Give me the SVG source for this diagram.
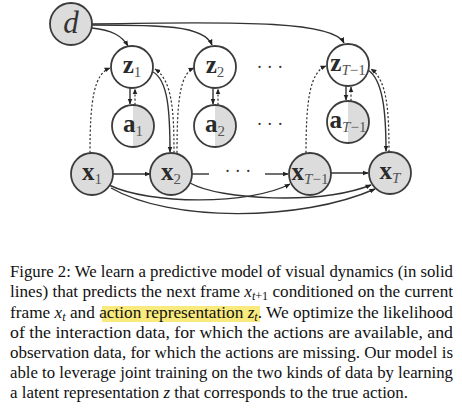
<svg xmlns="http://www.w3.org/2000/svg" width="462" height="410" viewBox="0 0 462 410">
<style>
.n{stroke:#3c3c3c;stroke-width:1.8;}
.g{fill:#dcdcdc;}
.w{fill:#ffffff;}
.lbl{font-family:"Liberation Serif",serif;font-weight:bold;font-size:25px;fill:#2a2a2a;text-anchor:middle;}
.sub{font-weight:normal;font-size:15px;fill:#555;}
.it{font-style:italic;}
.e{fill:none;stroke:#333;stroke-width:1.4;}
.d{fill:none;stroke:#333;stroke-width:1.2;stroke-dasharray:2.2 2;}
.dots{font-family:"Liberation Serif",serif;font-size:18px;fill:#333;letter-spacing:4.4px;text-anchor:middle;}
.cap{font-family:"Liberation Serif",serif;font-size:17px;fill:#111;}
</style>
<defs>
<marker id="ah" viewBox="0 0 10 10" refX="9" refY="5" markerWidth="6" markerHeight="6" orient="auto" markerUnits="userSpaceOnUse">
<path d="M0,1 L10,5 L0,9 Z" fill="#222"/>
</marker>
</defs>
<rect width="462" height="410" fill="#fff"/>

<g id="connectors">
<path class="e" d="M92,28 C112,30 122,36 128,46" marker-end="url(#ah)"/>
<path class="e" d="M92,25 C160,25 204,25 212,45" marker-end="url(#ah)"/>
<path class="e" d="M92,24 C250,21 334,22 344,43" marker-end="url(#ah)"/>
<path class="e" d="M130,88 L130,104" marker-end="url(#ah)"/>
<path class="d" d="M135,105 L135,89" marker-end="url(#ah)"/>
<path class="e" d="M213,88 L213,104" marker-end="url(#ah)"/>
<path class="d" d="M218,105 L218,89" marker-end="url(#ah)"/>
<path class="e" d="M346,86 L346,100" marker-end="url(#ah)"/>
<path class="d" d="M351,101 L351,87" marker-end="url(#ah)"/>
<path class="d" d="M90,153 C90,100 94,74 110,68" marker-end="url(#ah)"/>
<path class="e" d="M153,72 C168,80 170,112 170,152" marker-end="url(#ah)"/>
<path class="d" d="M174,153 C174,110 172,80 155,69" marker-end="url(#ah)"/>
<path class="d" d="M177,153 C177,100 180,74 194,68" marker-end="url(#ah)"/>
<path class="d" d="M306,153 C306,100 310,72 326,66" marker-end="url(#ah)"/>
<path class="e" d="M368,70 C383,80 386,112 386,151" marker-end="url(#ah)"/>
<path class="d" d="M389,152 C389,110 387,80 371,69" marker-end="url(#ah)"/>
<path class="e" d="M113,174 L150,174" marker-end="url(#ah)"/>
<path class="e" d="M192,174 L209,174"/>
<path class="e" d="M265,174 L288,174" marker-end="url(#ah)"/>
<path class="e" d="M331,173 L368,173" marker-end="url(#ah)"/>
<path class="e" d="M109,185 C150,205 250,205 290,184" marker-end="url(#ah)"/>
<path class="e" d="M111,188 C170,222 300,222 375,189" marker-end="url(#ah)"/>
<path class="e" d="M190,183 C220,200 320,205 371,185" marker-end="url(#ah)"/>
</g>

<g id="d">
<circle class="n g" cx="71" cy="24" r="21"/>
<text x="71" y="33" font-family="Liberation Serif,serif" font-style="italic" font-size="31" fill="#333" text-anchor="middle">d</text>
</g>
<g id="z1"><circle class="n w" cx="132" cy="67" r="21"/><text class="lbl" x="132" y="73">z<tspan class="sub" dy="4">1</tspan></text></g>
<g id="z2"><circle class="n w" cx="215" cy="67" r="21"/><text class="lbl" x="215" y="73">z<tspan class="sub" dy="4">2</tspan></text></g>
<g id="zT-1"><circle class="n w" cx="348" cy="65" r="21"/><text class="lbl" x="348" y="71">z<tspan class="sub" dy="4"><tspan class="it">T</tspan>−1</tspan></text></g>

<g id="a1"><circle class="w" cx="133" cy="126" r="21"/><path class="g" d="M133,105 A21,21 0 0 1 133,147 Z"/><circle class="n" fill="none" cx="133" cy="126" r="21"/><text class="lbl" x="133" y="132">a<tspan class="sub" dy="4">1</tspan></text></g>
<g id="a2"><circle class="w" cx="215" cy="126" r="21"/><path class="g" d="M215,105 A21,21 0 0 1 215,147 Z"/><circle class="n" fill="none" cx="215" cy="126" r="21"/><text class="lbl" x="215" y="132">a<tspan class="sub" dy="4">2</tspan></text></g>
<g id="aT-1"><circle class="w" cx="348" cy="122" r="21"/><path class="g" d="M348,101 A21,21 0 0 1 348,143 Z"/><circle class="n" fill="none" cx="348" cy="122" r="21"/><text class="lbl" x="348" y="128">a<tspan class="sub" dy="4"><tspan class="it">T</tspan>−1</tspan></text></g>

<g id="x1"><circle class="n g" cx="92" cy="174" r="21"/><text class="lbl" x="92" y="180">x<tspan class="sub" dy="4">1</tspan></text></g>
<g id="x2"><circle class="n g" cx="171" cy="174" r="21"/><text class="lbl" x="171" y="180">x<tspan class="sub" dy="4">2</tspan></text></g>
<g id="xT-1"><circle class="n g" cx="310" cy="174" r="21"/><text class="lbl" x="310" y="180">x<tspan class="sub" dy="4"><tspan class="it">T</tspan>−1</tspan></text></g>
<g id="xT"><circle class="n g" cx="390" cy="173" r="21"/><text class="lbl" x="390" y="179">x<tspan class="sub it" dy="4">T</tspan></text></g>

<text class="dots" x="272" y="73">···</text>
<text class="dots" x="272" y="130">···</text>
<text class="dots" x="240" y="177">···</text>

<rect x="102" y="306" width="158" height="16" fill="#f8ea7c"/>
<g id="caption" class="cap">
<text x="10" y="277" textLength="443" lengthAdjust="spacingAndGlyphs">Figure 2: We learn a predictive model of visual dynamics (in solid</text>
<text x="10" y="297" textLength="443" lengthAdjust="spacingAndGlyphs">lines) that predicts the next frame <tspan font-style="italic">x</tspan><tspan font-size="12" dy="3"><tspan font-style="italic">t</tspan>+1</tspan><tspan dy="-3"> conditioned on the current</tspan></text>
<text x="10" y="318" textLength="443" lengthAdjust="spacingAndGlyphs">frame <tspan font-style="italic">x</tspan><tspan font-size="12" font-style="italic" dy="3">t</tspan><tspan dy="-3"> and action representation </tspan><tspan font-style="italic">z</tspan><tspan font-size="12" font-style="italic" dy="3">t</tspan><tspan dy="-3">. We optimize the likelihood</tspan></text>
<text x="10" y="338" textLength="443" lengthAdjust="spacingAndGlyphs">of the interaction data, for which the actions are available, and</text>
<text x="10" y="358" textLength="443" lengthAdjust="spacingAndGlyphs">observation data, for which the actions are missing. Our model is</text>
<text x="10" y="378" textLength="443" lengthAdjust="spacingAndGlyphs">able to leverage joint training on the two kinds of data by learning</text>
<text x="10" y="398" textLength="398" lengthAdjust="spacingAndGlyphs">a latent representation <tspan font-style="italic">z</tspan> that corresponds to the true action.</text>
</g>
</svg>
